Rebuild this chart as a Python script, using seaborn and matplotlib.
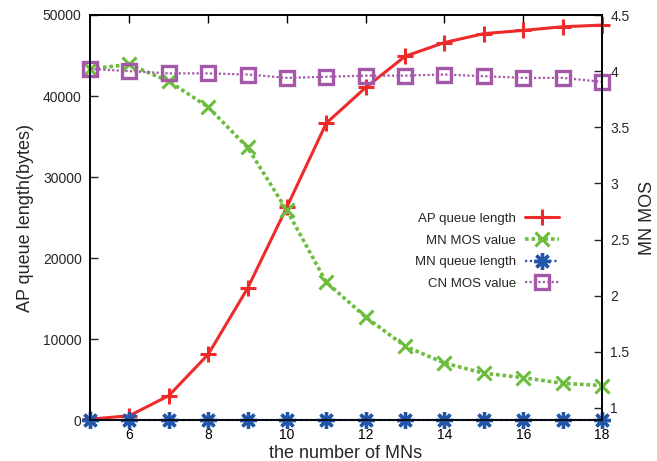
import matplotlib
matplotlib.use("Agg")
import matplotlib.pyplot as plt
import seaborn as sns
import pandas as pd
from matplotlib.lines import Line2D

num_mns = [5, 6, 7, 8, 9, 10, 11, 12, 13, 14, 15, 16, 17, 18]
ap_queue = [100, 530, 3000, 8100, 16250, 26300, 36650, 41050, 44900, 46600, 47700, 48100, 48550, 48750]
mn_queue = [0, 0, 0, 0, 0, 0, 0, 0, 0, 0, 0, 0, 0, 0]
mn_mos = [4.02, 4.06, 3.91, 3.68, 3.32, 2.76, 2.12, 1.81, 1.55, 1.40, 1.31, 1.27, 1.22, 1.20]
cn_mos = [4.02, 4.00, 3.98, 3.98, 3.97, 3.94, 3.95, 3.96, 3.96, 3.97, 3.955, 3.94, 3.94, 3.905]

x_ticks = [6, 8, 10, 12, 14, 16, 18]
y_ticks = [0, 10000, 20000, 30000, 40000, 50000]
y2_ticks = [1, 1.5, 2, 2.5, 3, 3.5, 4, 4.5]
y2_tick_labels = ['1', '1.5', '2', '2.5', '3', '3.5', '4', '4.5']

sns.set_style("ticks")
plt.rcParams['font.family'] = ['Liberation Sans', 'DejaVu Sans']
plt.rcParams['xtick.direction'] = 'in'
plt.rcParams['ytick.direction'] = 'in'

df = pd.DataFrame({"n": num_mns, "ap": ap_queue, "mnq": mn_queue,
                   "mnmos": mn_mos, "cnmos": cn_mos})

RED = '#ee2b2b'
GREEN = '#6cbd3e'
BLUE = '#2356a8'
PURPLE = '#a358a8'

blue_marker = (8, 2, 0)

fig = plt.figure(figsize=(6.57, 4.61), dpi=100)
ax = fig.add_axes([90/657, 1-420/461, (602-90)/657, (420-15)/461])
ax2 = ax.twinx()

sns.lineplot(data=df, x="n", y="ap", ax=ax, color=RED, lw=2.2, marker='+',
             markersize=11, markeredgewidth=2.2, markeredgecolor=RED, zorder=5)
sns.lineplot(data=df, x="n", y="mnq", ax=ax, color=BLUE, lw=1.6, marker=blue_marker,
             markersize=12, markeredgewidth=2.4, markeredgecolor=BLUE, zorder=6,
             linestyle=(0, (1, 1.2)))
sns.lineplot(data=df, x="n", y="mnmos", ax=ax2, color=GREEN, lw=2.6, marker='x',
             markersize=10, markeredgewidth=2.2, markeredgecolor=GREEN,
             linestyle=(0, (1, 0.8)))
sns.lineplot(data=df, x="n", y="cnmos", ax=ax2, color=PURPLE, lw=1.6, marker='s',
             markersize=10, markeredgewidth=2.4, markeredgecolor=PURPLE,
             markerfacecolor='none', linestyle=(0, (1, 1)))

for a in (ax, ax2):
    for ln in a.get_lines():
        ln.set_clip_on(False)

ax.set_xlim(5, 18)
ax.set_ylim(0, 50000)
ax2.set_ylim(0.893, 4.5)
ax.set_xticks(x_ticks)
ax.set_yticks(y_ticks)
ax2.set_yticks(y2_ticks)
ax2.set_yticklabels(y2_tick_labels)

ax.tick_params(axis='x', which='both', top=True, bottom=True, length=6, width=1,
               labelsize=10, pad=6, colors='black')
ax.tick_params(axis='y', which='both', left=True, right=False, length=6, width=1,
               labelsize=10, pad=6)
ax2.tick_params(axis='y', which='both', right=True, left=False, length=6, width=1,
                labelsize=10, pad=6, direction='in')

for a in (ax, ax2):
    for s in a.spines.values():
        s.set_visible(True)
        s.set_linewidth(1.2)
        s.set_color('black')

ax.set_xlabel("the number of MNs", fontsize=13, labelpad=2)
ax.set_ylabel("AP queue length(bytes)", fontsize=13, labelpad=6)
ax2.set_ylabel("MN MOS", fontsize=13, labelpad=7, rotation=90)

handles = [
    Line2D([], [], color=RED, lw=2.2, marker='+', markersize=11, markeredgewidth=2.2),
    Line2D([], [], color=GREEN, lw=2.6, marker='x', markersize=10, markeredgewidth=2.2,
           linestyle=(0, (1, 0.8))),
    Line2D([], [], color=BLUE, lw=1.6, marker=blue_marker, markersize=12,
           markeredgewidth=2.4, linestyle=(0, (1, 1.2))),
    Line2D([], [], color=PURPLE, lw=1.6, marker='s', markersize=10, markeredgewidth=2.4,
           markerfacecolor='none', linestyle=(0, (1, 1))),
]
labels = ["AP queue length", "MN MOS value", "MN queue length", "CN MOS value"]
leg = ax2.legend(handles, labels, loc='upper right', bbox_to_anchor=(0.927, 0.525),
                 markerfirst=False, frameon=False, fontsize=9.5, handlelength=2.6,
                 handletextpad=0.7, labelspacing=0.72, borderaxespad=0)
for t in leg.get_texts():
    t.set_ha('right')
leg._legend_box.align = "right"

fig.savefig("out.png", dpi=100)
